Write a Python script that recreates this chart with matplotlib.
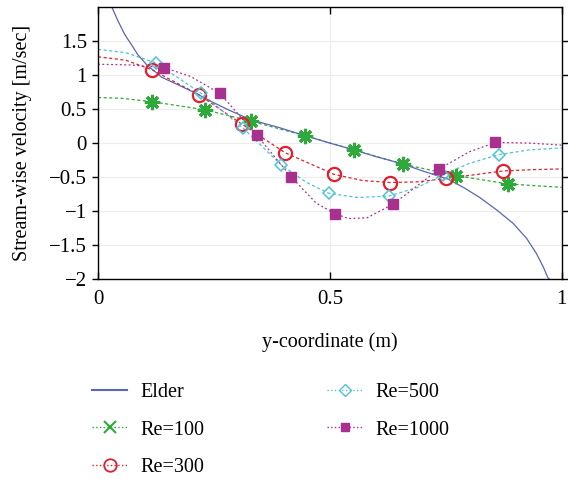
import numpy as np
import matplotlib.pyplot as plt
from matplotlib.lines import Line2D

plt.rcParams['font.family'] = ['Liberation Serif', 'DejaVu Serif']

# --- Data ---
elder_x = [0.030, 0.043, 0.0575, 0.072, 0.086, 0.108, 0.122, 0.137, 0.175, 0.209, 0.245, 0.281,
           0.331, 0.39, 0.446, 0.50, 0.552, 0.60, 0.654, 0.70, 0.755, 0.79, 0.823, 0.859,
           0.895, 0.924, 0.945, 0.960, 0.970, 0.973]
elder_y = [2.0, 1.80, 1.60, 1.45, 1.30, 1.13, 1.06, 0.97, 0.85, 0.74, 0.61, 0.49,
           0.34, 0.23, 0.11, 0.00, -0.10, -0.20, -0.30, -0.41, -0.53, -0.66, -0.80, -0.98,
           -1.18, -1.40, -1.62, -1.82, -1.98, -2.0]

# curves (dashed) for each Reynolds number
re100_cx = [0, 0.05, 0.116, 0.231, 0.331, 0.446, 0.552, 0.658, 0.773, 0.884, 0.95, 1.0]
re100_cy = [0.67, 0.66, 0.61, 0.49, 0.32, 0.11, -0.10, -0.31, -0.48, -0.60, -0.63, -0.65]
re300_cx = [0, 0.06, 0.116, 0.218, 0.310, 0.403, 0.509, 0.57, 0.629, 0.69, 0.751, 0.874, 0.94, 1.0]
re300_cy = [1.27, 1.22, 1.08, 0.71, 0.28, -0.14, -0.46, -0.55, -0.58, -0.57, -0.52, -0.41, -0.39, -0.38]
re500_cx = [0, 0.06, 0.125, 0.223, 0.313, 0.395, 0.45, 0.498, 0.56, 0.627, 0.69, 0.743, 0.80, 0.864, 0.93, 1.0]
re500_cy = [1.38, 1.33, 1.18, 0.73, 0.22, -0.32, -0.58, -0.74, -0.80, -0.78, -0.65, -0.47, -0.30, -0.17, -0.10, -0.07]
re1000_cx = [0, 0.07, 0.143, 0.20, 0.263, 0.342, 0.417, 0.47, 0.511, 0.54, 0.58, 0.636, 0.69, 0.736, 0.80, 0.857, 0.93, 1.0]
re1000_cy = [1.16, 1.15, 1.11, 0.98, 0.73, 0.12, -0.50, -0.88, -1.04, -1.11, -1.10, -0.90, -0.62, -0.38, -0.13, 0.01, 0.00, -0.03]

# marker positions
re100_mx = [0.116, 0.231, 0.331, 0.446, 0.552, 0.658, 0.773, 0.884]
re100_my = [0.61, 0.49, 0.32, 0.108, -0.10, -0.31, -0.48, -0.60]
re300_mx = [0.116, 0.218, 0.310, 0.403, 0.509, 0.629, 0.751, 0.874]
re300_my = [1.08, 0.71, 0.28, -0.14, -0.46, -0.58, -0.52, -0.41]
re500_mx = [0.125, 0.223, 0.313, 0.395, 0.498, 0.627, 0.743, 0.864]
re500_my = [1.18, 0.73, 0.22, -0.32, -0.74, -0.78, -0.47, -0.17]
re1000_mx = [0.143, 0.263, 0.342, 0.417, 0.511, 0.636, 0.736, 0.857]
re1000_my = [1.11, 0.73, 0.12, -0.50, -1.04, -0.90, -0.38, 0.01]

yticks = [-2, -1.5, -1, -0.5, 0, 0.5, 1, 1.5]
xticks = [0, 0.5, 1]

c_elder = '#5b66b3'
c_green = '#2eaa3a'
c_red = '#e0202e'
c_cyan = '#4fc3d6'
c_purple = '#a8308e'

fig = plt.figure(figsize=(5.68, 4.79), dpi=100)
ax = fig.add_axes([0.1725, 0.4175, 0.8165, 0.5675])

ax.grid(True, color='#ececec', linewidth=0.8)
ax.set_axisbelow(True)

ds = (2.5, 2.0)
ax.plot(re100_cx, re100_cy, color=c_green, lw=0.9, dashes=ds)
ax.plot(re300_cx, re300_cy, color=c_red, lw=0.9, dashes=ds)
ax.plot(re500_cx, re500_cy, color=c_cyan, lw=0.9, dashes=ds)
ax.plot(re1000_cx, re1000_cy, color=c_purple, lw=0.9, dashes=(1.5, 2.0))
ax.plot(elder_x, elder_y, color=c_elder, lw=0.9)

ax.plot(re100_mx, re100_my, ls='none', marker=(8, 2, 0), ms=11, mew=2.2, color=c_green)
ax.plot(re300_mx, re300_my, ls='none', marker='o', ms=9.5, mew=1.6, mfc='none', mec=c_red)
ax.plot(re500_mx, re500_my, ls='none', marker='D', ms=6.5, mew=1.1, mfc='none', mec=c_cyan)
ax.plot(re1000_mx, re1000_my, ls='none', marker='s', ms=6.5, color=c_purple)

ax.set_xlim(0, 1)
ax.set_ylim(-2, 2)
ax.set_xticks(xticks)
ax.set_xticklabels(['0', '0.5', '1'])
ax.set_yticks(yticks)
ax.set_yticklabels(['\u22122', '\u22121.5', '\u22121', '\u22120.5', '0', '0.5', '1', '1.5'])
ax.tick_params(axis='x', direction='in', top=True, length=5, width=1, pad=8, labelsize=15)
ax.tick_params(axis='y', direction='out', right=True, length=4, width=1, pad=4, labelsize=15)
for s in ax.spines.values():
    s.set_linewidth(1.0)

ax.set_xlabel('y-coordinate (m)', fontsize=14.5, labelpad=17)
ax.set_ylabel('Stream-wise velocity [m/sec]', fontsize=14.5, labelpad=12)

handles = [
    Line2D([], [], color=c_elder, lw=1.5),
    Line2D([], [], color=c_green, ls=':', lw=1, marker='x', ms=9, mew=1.5),
    Line2D([], [], color=c_red, ls=':', lw=1, marker='o', ms=9, mew=1.3, mfc='none'),
    Line2D([], [], color=c_cyan, ls=':', lw=1, marker='D', ms=6, mew=1, mfc='none'),
    Line2D([], [], color=c_purple, ls=':', lw=1, marker='s', ms=6),
]
labels = ['Elder', 'Re=100', 'Re=300', 'Re=500', 'Re=1000']
fig.legend(handles, labels, loc='upper left', bbox_to_anchor=(0.162, 0.20), ncol=2,
           frameon=False, fontsize=14.5, handlelength=1.75, handletextpad=0.65,
           columnspacing=6.1, labelspacing=0.9, borderpad=0, borderaxespad=0)

fig.savefig('out.png', dpi=100)
